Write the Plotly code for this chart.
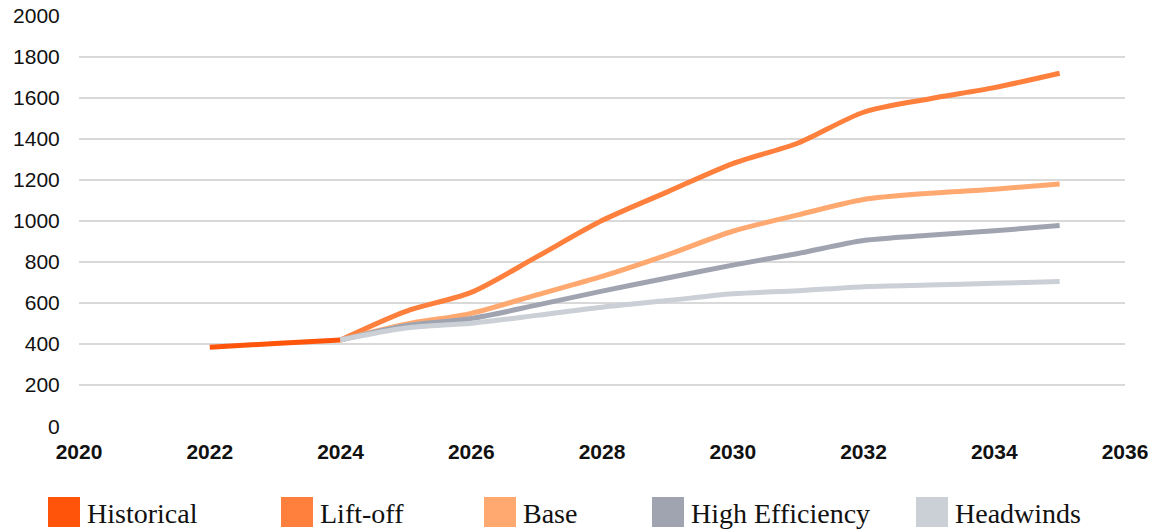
import plotly.graph_objects as go

# ---- data ----
hist_years = [2022, 2023, 2024]
hist_values = [385, 403, 420]

scen_years = [2024, 2025, 2026, 2027, 2028, 2029, 2030, 2031, 2032, 2033, 2034, 2035]
liftoff = [420, 560, 652, 825, 1002, 1142, 1280, 1380, 1530, 1595, 1650, 1720]
base = [420, 497, 550, 640, 730, 835, 950, 1030, 1105, 1135, 1155, 1180]
high_eff = [420, 490, 525, 590, 658, 722, 785, 842, 905, 930, 952, 978]
headwinds = [420, 478, 502, 540, 580, 612, 645, 660, 680, 688, 696, 705]

series_names = ["Historical", "Lift-off", "Base", "High Efficiency", "Headwinds"]
series_colors = ["#FF540A", "#FE803C", "#FFA870", "#A0A4B0", "#CBCFD6"]

x_ticks = [2020, 2022, 2024, 2026, 2028, 2030, 2032, 2034, 2036]
y_ticks = [0, 200, 400, 600, 800, 1000, 1200, 1400, 1600, 1800, 2000]

# ---- figure ----
W, H = 1153, 529
ML, MR, MT, MB = 79, 28, 15, 102
PW, PH = W - ML - MR, H - MT - MB

fig = go.Figure()
all_series = [
    (hist_years, hist_values),
    (scen_years, liftoff),
    (scen_years, base),
    (scen_years, high_eff),
    (scen_years, headwinds),
]
for (xs, ys), name, col in zip(all_series, series_names, series_colors):
    fig.add_trace(go.Scatter(
        x=xs, y=ys, name=name, mode="lines",
        line=dict(color=col, width=5, shape="spline", smoothing=0.8),
        showlegend=False,
    ))

# custom legend (square swatches + serif labels)
sq_left = [48, 281, 484, 652, 916]
def px2x(px):
    return (px - ML) / PW
def py2y(py):
    return (H - MB - py) / PH

shapes = []
annotations = []
for left, name, col in zip(sq_left, series_names, series_colors):
    shapes.append(dict(
        type="rect", xref="paper", yref="paper",
        x0=px2x(left), x1=px2x(left + 32),
        y0=py2y(527), y1=py2y(497),
        fillcolor=col, line=dict(width=0), layer="above",
    ))
    annotations.append(dict(
        xref="paper", yref="paper", x=px2x(left + 37), y=py2y(513),
        xanchor="left", yanchor="middle", text=name, showarrow=False,
        font=dict(family="Liberation Serif", size=28, color="#111111"),
    ))

fig.update_layout(
    width=W, height=H, autosize=False,
    margin=dict(l=ML, r=MR, t=MT, b=MB, pad=0, autoexpand=False),
    paper_bgcolor="white", plot_bgcolor="white",
    shapes=shapes, annotations=annotations,
    showlegend=False,
    xaxis=dict(
        range=[2020, 2036], tickvals=x_ticks, ticktext=[str(v) for v in x_ticks],
        showgrid=False, zeroline=False, showline=False, automargin=False,
        ticks="outside", ticklen=6, tickcolor="rgba(0,0,0,0)",
        tickfont=dict(family="Liberation Sans", size=21, color="#111111", weight="bold"),
    ),
    yaxis=dict(
        range=[-4, 2004], tickvals=y_ticks,
        showgrid=True, gridcolor="#D9D9D9", gridwidth=1.5,
        zeroline=False, showline=False, automargin=False,
        ticks="outside", ticklen=14, tickcolor="rgba(0,0,0,0)",
        tickfont=dict(family="Liberation Sans", size=21, color="#111111"),
    ),
)

fig.write_html("out.html", config={"displayModeBar": False},
               post_script="document.body.style.margin='0';document.body.style.overflow='hidden';")
